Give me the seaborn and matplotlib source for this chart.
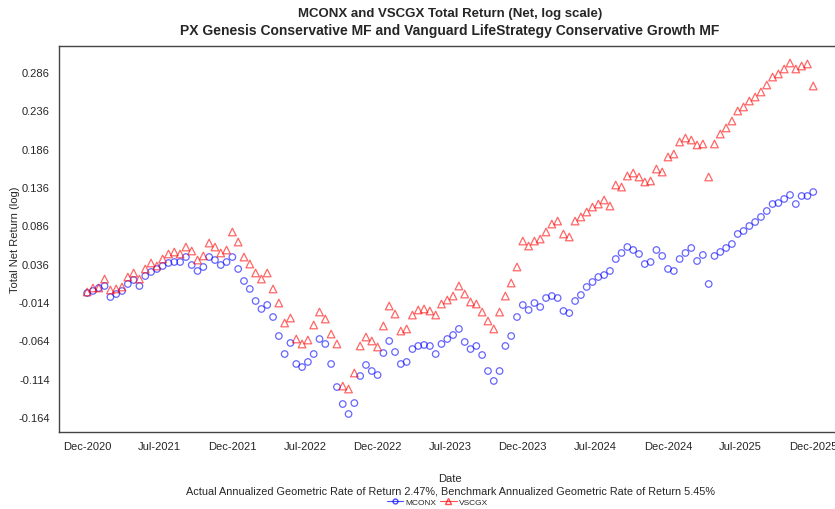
import numpy as np
import pandas as pd
import matplotlib
matplotlib.use("Agg")
import matplotlib.pyplot as plt
from matplotlib.lines import Line2D
import seaborn as sns

# ── Data (one value every ~10 trading days) ─────────────────────────────────

mconx = [-0.0023, 0.0004, 0.0043, 0.0069, -0.0075, -0.0036, 0.0004, 0.0095, 0.0147, 0.0069,
         0.0199, 0.0252, 0.0291, 0.0330, 0.0369, 0.0382, 0.0382, 0.0447, 0.0343, 0.0265,
         0.0317, 0.0447, 0.0408, 0.0343, 0.0382, 0.0447, 0.0291, 0.0134, 0.0030, -0.0127,
         -0.0231, -0.0179, -0.0336, -0.0584, -0.0819, -0.0675, -0.0949, -0.0989, -0.0923, -0.0819,
         -0.0623, -0.0688, -0.0949, -0.1250, -0.1472, -0.1602, -0.1459, -0.1106, -0.0962, -0.1041,
         -0.1093, -0.0806, -0.0649, -0.0793, -0.0949, -0.0923, -0.0754, -0.0714, -0.0701, -0.0714,
         -0.0819, -0.0688, -0.0623, -0.0571, -0.0492, -0.0662, -0.0754, -0.0714, -0.0832, -0.1041,
         -0.1171, -0.1041, -0.0714, -0.0584, -0.0336, -0.0179, -0.0244, -0.0153, -0.0205, -0.0088,
         -0.0062, -0.0088, -0.0257, -0.0284, -0.0127, -0.0049, 0.0056, 0.0121, 0.0186, 0.0212,
         0.0265, 0.0421, 0.0500, 0.0578, 0.0539, 0.0487, 0.0356, 0.0382, 0.0539, 0.0461,
         0.0291, 0.0265, 0.0421, 0.0500, 0.0565, 0.0395, 0.0474, 0.0095, 0.0461, 0.0513,
         0.0565, 0.0617, 0.0748, 0.0787, 0.0852, 0.0904, 0.0970, 0.1048, 0.1139, 0.1152,
         0.1205, 0.1257, 0.1139, 0.1244, 0.1244, 0.1296]

vscgx = [-0.0009, 0.0043, 0.0043, 0.0160, 0.0017, 0.0030, 0.0056, 0.0186, 0.0239, 0.0160,
         0.0291, 0.0369, 0.0330, 0.0421, 0.0487, 0.0513, 0.0487, 0.0578, 0.0526, 0.0408,
         0.0461, 0.0630, 0.0578, 0.0500, 0.0539, 0.0774, 0.0643, 0.0447, 0.0356, 0.0239,
         0.0160, 0.0239, 0.0030, -0.0153, -0.0414, -0.0349, -0.0623, -0.0688, -0.0636, -0.0440,
         -0.0271, -0.0362, -0.0558, -0.0688, -0.1237, -0.1276, -0.1067, -0.0714, -0.0597, -0.0649,
         -0.0727, -0.0453, -0.0192, -0.0297, -0.0519, -0.0492, -0.0310, -0.0244, -0.0231, -0.0257,
         -0.0310, -0.0166, -0.0114, -0.0062, 0.0069, -0.0036, -0.0140, -0.0166, -0.0271, -0.0388,
         -0.0492, -0.0271, -0.0062, 0.0108, 0.0317, 0.0656, 0.0591, 0.0656, 0.0682, 0.0774,
         0.0878, 0.0917, 0.0748, 0.0709, 0.0917, 0.0970, 0.1035, 0.1100, 0.1139, 0.1192,
         0.1113, 0.1387, 0.1361, 0.1505, 0.1544, 0.1492, 0.1427, 0.1440, 0.1596, 0.1557,
         0.1753, 0.1792, 0.1949, 0.2001, 0.1975, 0.1910, 0.1923, 0.1492, 0.1923, 0.2053,
         0.2132, 0.2223, 0.2354, 0.2406, 0.2484, 0.2536, 0.2602, 0.2693, 0.2797, 0.2837,
         0.2902, 0.2980, 0.2902, 0.2941, 0.2967, 0.2680]

obs_step = 10          # trading days between readings
tick_every = 125       # trading days between date labels
date_labels = ["Dec-2020", "Jul-2021", "Dec-2021", "Jul-2022", "Dec-2022", "Jul-2023",
               "Dec-2023", "Jul-2024", "Dec-2024", "Jul-2025", "Dec-2025"]
y_ticks = [-0.164, -0.114, -0.064, -0.014, 0.036, 0.086, 0.136, 0.186, 0.236, 0.286]

df = pd.DataFrame({
    "obs": np.arange(len(mconx)) * obs_step,
    "MCONX": mconx,
    "VSCGX": vscgx,
})

# ── Style ───────────────────────────────────────────────────────────────────

sns.set_style("white")
plt.rcParams["font.family"] = ["Liberation Sans", "DejaVu Sans"]
plt.rcParams["xtick.direction"] = "out"
plt.rcParams["ytick.direction"] = "out"

fig = plt.figure(figsize=(8.35, 5.10), dpi=100)
ax = fig.add_axes([58.7 / 835, 77 / 510, 783 / 835, 386 / 510])

sns.scatterplot(data=df, x="obs", y="MCONX", ax=ax, marker="o", s=22,
                facecolor="none", edgecolor="#0000ff", linewidth=0.9, alpha=0.6)
sns.scatterplot(data=df, x="obs", y="VSCGX", ax=ax, marker="^", s=30,
                facecolor="none", edgecolor="#ff0000", linewidth=0.9, alpha=0.6)

ax.set_xlim(-49, 1299)
ax.set_ylim(-0.1837, 0.3202)
ax.set_xticks(np.arange(len(date_labels)) * tick_every)
ax.set_xticklabels(date_labels, fontsize=8)
ax.set_yticks(y_ticks)
ax.set_yticklabels([f"{t:.3f}" for t in y_ticks], fontsize=8)
ax.tick_params(axis="both", length=4.5, width=0.8, color="#333333", pad=2)
for sp in ax.spines.values():
    sp.set_color("#444444")
    sp.set_linewidth(1.0)

ax.set_xlabel("")
ax.set_ylabel("Total Net Return (log)", fontsize=8)
ax.yaxis.set_label_coords(-0.049, 0.5)

# ── Titles and bottom texts ─────────────────────────────────────────────────

cx = 450 / 835
fig.text(cx, 1 - 14 / 510, "MCONX and VSCGX Total Return (Net, log scale)",
         ha="center", va="center", fontsize=9.5, fontweight="bold")
fig.text(cx, 1 - 31 / 510,
         "PX Genesis Conservative MF and Vanguard LifeStrategy Conservative Growth MF",
         ha="center", va="center", fontsize=10, fontweight="bold")
fig.text(cx, 1 - 479 / 510, "Date", ha="center", va="center", fontsize=8)
fig.text(cx, 1 - 492 / 510,
         "Actual Annualized Geometric Rate of Return 2.47%, "
         "Benchmark Annualized Geometric Rate of Return 5.45%",
         ha="center", va="center", fontsize=7.8)

handles = [
    Line2D([], [], color="#0000ff", marker="o", markerfacecolor="none",
           markersize=3.5, linewidth=0.8, alpha=0.7),
    Line2D([], [], color="#ff0000", marker="^", markerfacecolor="none",
           markersize=4, linewidth=0.8, alpha=0.7),
]
fig.legend(handles, ["MCONX", "VSCGX"], loc="center", bbox_to_anchor=(cx - 0.015, 1 - 503 / 510),
           ncol=2, frameon=False, fontsize=6, handlelength=2.0, columnspacing=0.4,
           handletextpad=0.3, borderpad=0)

fig.savefig("out.png", dpi=100)
